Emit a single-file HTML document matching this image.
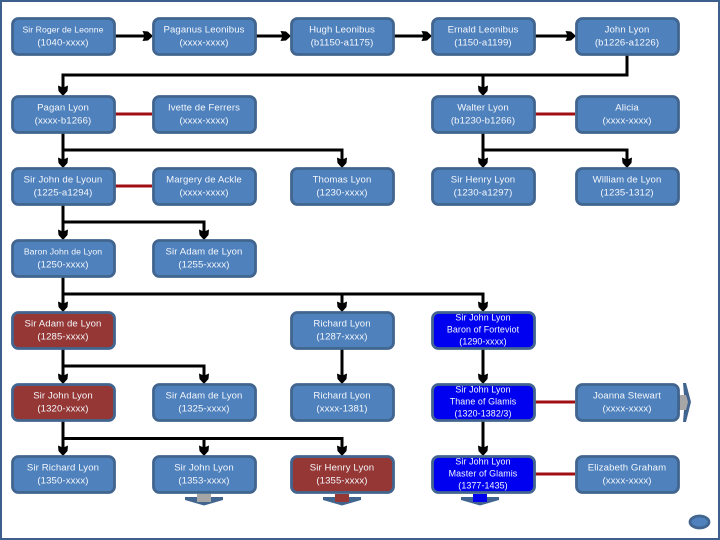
<!DOCTYPE html>
<html><head><meta charset="utf-8"><style>
html,body{margin:0;padding:0;background:#fff}
svg{display:block}
text{font-family:"Liberation Sans",sans-serif;font-size:9.6px;fill:#f4f7fb;text-anchor:middle;letter-spacing:.1px;transform:translate(0,-1px)}
.s{font-size:8.7px;letter-spacing:.05px}
.t{font-size:8.9px;letter-spacing:.1px}
rect.b{width:102px;height:36px;transform:translate(.5px,.5px)}
.b{fill:#4f81bd;stroke:#41658f;stroke-width:2.8}
.d{fill:#953735}.u{fill:#0000f0}
.l{fill:none;stroke:#000;stroke-width:3}
.r{fill:none;stroke:#a00f14;stroke-width:3}
</style></head><body>
<svg width="720" height="540" viewBox="0 0 720 540" xmlns="http://www.w3.org/2000/svg">
<defs>
<g id="ad"><path d="M-5,-9.500 L-1.500,-8 L1.500,-8 L5,-9.500 L4.500,-4 L0,1 L-4.500,-4 Z" fill="#000"/></g>
<g id="ar"><path d="M-9.500,-5 L-8,-1.500 L-8,1.500 L-9.500,5 L-4,4.500 L1,0 L-4,-4.500 Z" fill="#000"/></g>
</defs>
<rect x="1" y="1" width="718" height="538" fill="#fff" stroke="#3c5f8e" stroke-width="2"/>

<path class="l" d="M115 36H147M256 36H285M394 36H426M535 36H570M627 55V75H63V90M483 75V90M63 133V162M63 150H342V162M483 133V162M483 150H627V162M63 205V234M63 222H204V234M63 277V306M63 294H483V306M342 294V306M63 349V378M63 366H204V378M342 349V378M483 349V378M63 421V450M63 438.500H342V450M204 438.500V450M483 421V450"/>
<g>
<use href="#ar" x="152" y="36"/><use href="#ar" x="290" y="36"/><use href="#ar" x="431" y="36"/><use href="#ar" x="575" y="36"/>
<use href="#ad" x="63" y="95"/><use href="#ad" x="483" y="95"/>
<use href="#ad" x="63" y="167"/><use href="#ad" x="342" y="167"/><use href="#ad" x="483" y="167"/><use href="#ad" x="627" y="167"/>
<use href="#ad" x="63" y="239"/><use href="#ad" x="204" y="239"/>
<use href="#ad" x="63" y="311"/><use href="#ad" x="342" y="311"/><use href="#ad" x="483" y="311"/>
<use href="#ad" x="63" y="383"/><use href="#ad" x="204" y="383"/><use href="#ad" x="342" y="383"/><use href="#ad" x="483" y="383"/>
<use href="#ad" x="63" y="455"/><use href="#ad" x="204" y="455"/><use href="#ad" x="342" y="455"/><use href="#ad" x="483" y="455"/>
</g>
<path class="r" d="M115 114H152M115 186H152M535 114H575M535 402H575M535 474H575"/>

<path d="M185 497H197V494H211V497H223V500L204 505.500L185 500Z" fill="#41658f"/><rect x="197" y="494" width="14" height="8" fill="#a6a6a6"/>
<path d="M323 497H335V494H349V497H361V500L342 505.500L323 500Z" fill="#41658f"/><rect x="335" y="494" width="14" height="8" fill="#953735"/>
<path d="M461 497H473V494H487V497H499V500L480 505.500L461 500Z" fill="#41658f"/><rect x="473" y="494" width="14" height="8" fill="#0000f0"/>
<path d="M683 383L686 383L691 402L686 422L683 422L684 410H679V395H684Z" fill="#41658f"/><path d="M680 395H686L688 402L686 410H680Z" fill="#a6a6a6"/>
<ellipse cx="699.500" cy="522" rx="9.500" ry="6" class="b"/>

<g>
<rect class="b" x="12" y="18" rx="6"/><text x="63" y="33.500" class="s">Sir Roger de Leonne</text><text x="63" y="46.500">(1040-xxxx)</text>
<rect class="b" x="153" y="18" rx="6"/><text x="204" y="33.500">Paganus Leonibus</text><text x="204" y="46.500">(xxxx-xxxx)</text>
<rect class="b" x="291" y="18" rx="6"/><text x="342" y="33.500">Hugh Leonibus</text><text x="342" y="46.500">(b1150-a1175)</text>
<rect class="b" x="432" y="18" rx="6"/><text x="483" y="33.500">Ernald Leonibus</text><text x="483" y="46.500">(1150-a1199)</text>
<rect class="b" x="576" y="18" rx="6"/><text x="627" y="33.500">John Lyon</text><text x="627" y="46.500">(b1226-a1226)</text>

<rect class="b" x="12" y="96" rx="6"/><text x="63" y="111.500">Pagan Lyon</text><text x="63" y="124.500">(xxxx-b1266)</text>
<rect class="b" x="153" y="96" rx="6"/><text x="204" y="111.500">Ivette de Ferrers</text><text x="204" y="124.500">(xxxx-xxxx)</text>
<rect class="b" x="432" y="96" rx="6"/><text x="483" y="111.500">Walter Lyon</text><text x="483" y="124.500">(b1230-b1266)</text>
<rect class="b" x="576" y="96" rx="6"/><text x="627" y="111.500">Alicia</text><text x="627" y="124.500">(xxxx-xxxx)</text>

<rect class="b" x="12" y="168" rx="6"/><text x="63" y="183.500">Sir John de Lyoun</text><text x="63" y="196.500">(1225-a1294)</text>
<rect class="b" x="153" y="168" rx="6"/><text x="204" y="183.500">Margery de Ackle</text><text x="204" y="196.500">(xxxx-xxxx)</text>
<rect class="b" x="291" y="168" rx="6"/><text x="342" y="183.500">Thomas Lyon</text><text x="342" y="196.500">(1230-xxxx)</text>
<rect class="b" x="432" y="168" rx="6"/><text x="483" y="183.500">Sir Henry Lyon</text><text x="483" y="196.500">(1230-a1297)</text>
<rect class="b" x="576" y="168" rx="6"/><text x="627" y="183.500">William de Lyon</text><text x="627" y="196.500">(1235-1312)</text>

<rect class="b" x="12" y="240" rx="6"/><text x="63" y="255.500" class="s">Baron John de Lyon</text><text x="63" y="268.500">(1250-xxxx)</text>
<rect class="b" x="153" y="240" rx="6"/><text x="204" y="255.500">Sir Adam de Lyon</text><text x="204" y="268.500">(1255-xxxx)</text>

<rect class="b d" x="12" y="312" rx="6"/><text x="63" y="327.500">Sir Adam de Lyon</text><text x="63" y="340.500">(1285-xxxx)</text>
<rect class="b" x="291" y="312" rx="6"/><text x="342" y="327.500">Richard Lyon</text><text x="342" y="340.500">(1287-xxxx)</text>
<rect class="b u" x="432" y="312" rx="6"/><text x="483" y="321.500" class="t">Sir John Lyon</text><text x="483" y="333.500" class="t">Baron of Forteviot</text><text x="483" y="345.500" class="t">(1290-xxxx)</text>

<rect class="b d" x="12" y="384" rx="6"/><text x="63" y="399.500">Sir John Lyon</text><text x="63" y="412.500">(1320-xxxx)</text>
<rect class="b" x="153" y="384" rx="6"/><text x="204" y="399.500">Sir Adam de Lyon</text><text x="204" y="412.500">(1325-xxxx)</text>
<rect class="b" x="291" y="384" rx="6"/><text x="342" y="399.500">Richard Lyon</text><text x="342" y="412.500">(xxxx-1381)</text>
<rect class="b u" x="432" y="384" rx="6"/><text x="483" y="393.500" class="t">Sir John Lyon</text><text x="483" y="405.500" class="t">Thane of Glamis</text><text x="483" y="417.500" class="t">(1320-1382/3)</text>
<rect class="b" x="576" y="384" rx="6"/><text x="627" y="399.500">Joanna Stewart</text><text x="627" y="412.500">(xxxx-xxxx)</text>

<rect class="b" x="12" y="456" rx="6"/><text x="63" y="471.500">Sir Richard Lyon</text><text x="63" y="484.500">(1350-xxxx)</text>
<rect class="b" x="153" y="456" rx="6"/><text x="204" y="471.500">Sir John Lyon</text><text x="204" y="484.500">(1353-xxxx)</text>
<rect class="b d" x="291" y="456" rx="6"/><text x="342" y="471.500">Sir Henry Lyon</text><text x="342" y="484.500">(1355-xxxx)</text>
<rect class="b u" x="432" y="456" rx="6"/><text x="483" y="465.500" class="t">Sir John Lyon</text><text x="483" y="477.500" class="t">Master of Glamis</text><text x="483" y="489.500" class="t">(1377-1435)</text>
<rect class="b" x="576" y="456" rx="6"/><text x="627" y="471.500">Elizabeth Graham</text><text x="627" y="484.500">(xxxx-xxxx)</text>
</g>
</svg>
</body></html>
